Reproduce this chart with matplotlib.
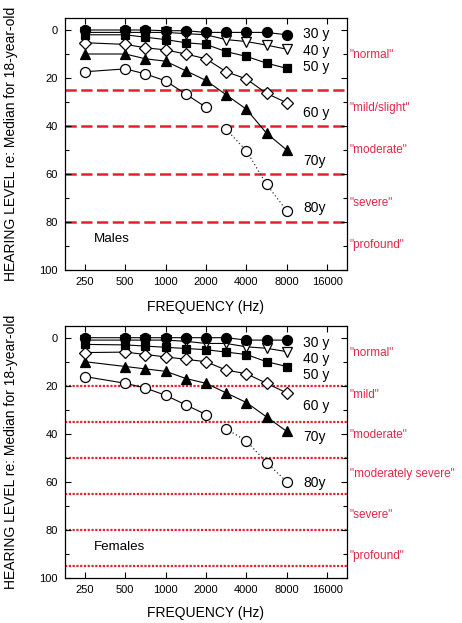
import matplotlib
matplotlib.use("Agg")
import matplotlib.pyplot as plt
from matplotlib.ticker import FixedLocator, MultipleLocator, NullLocator, FixedFormatter

plt.rcParams['font.family'] = ['Liberation Sans', 'DejaVu Sans']

# ---------------- data ----------------
freqs = [250, 500, 707, 1000, 1414, 2000, 2828, 4000, 5657, 8000]
xtick_vals = [250, 500, 1000, 2000, 4000, 8000, 16000]
xtick_labels = ["250", "500", "1000", "2000", "4000", "8000", "16000"]

ages = ["30 y", "40 y", "50 y", "60 y", "70y", "80y"]

male_30 = [0, 0, 0, 0.3, 0.3, 1, 1, 1, 1, 2]
male_40 = [1, 1, 1, 1, 1.5, 2, 4, 4.8, 6.3, 8]
male_50 = [2, 2, 3, 4, 5.3, 6, 9, 11, 13.8, 16]
male_60 = [5.3, 6, 7.4, 8.3, 10, 12, 17.4, 20.4, 26.4, 30.3]
male_70 = [10, 10, 12, 13, 17, 21, 27, 33, 43, 50]
male_80 = [17.4, 16.2, 18.3, 21.2, 26.7, 32.2, 41.4, 50.3, 64.3, 75.3]

female_30 = [0, 0, 0, 0, 0, 0, 0, 1, 1, 1]
female_40 = [1, 1, 1, 1, 1.5, 2.4, 2.4, 3.8, 4.4, 5.8]
female_50 = [2.8, 3, 3.5, 4, 4.5, 5, 6, 7, 10, 12]
female_60 = [6.2, 6, 7, 8, 9, 10, 13.5, 15, 19, 23]
female_70 = [10, 12, 13, 14, 17, 19, 23, 27, 33, 39]
female_80 = [16.2, 19, 21, 24, 28, 32, 38, 43, 52, 60]

# age label y-positions (dB)
male_label_y = [1.7, 8.7, 15.4, 34.6, 54.4, 74]
female_label_y = [2.4, 9, 15.5, 28.5, 41.2, 60.7]

male_limits = [25, 40, 60, 80]
male_categories = ['"normal"', '"mild/slight"', '"moderate"', '"severe"', '"profound"']
male_cat_y = [10.4, 32.5, 50, 72, 89.6]

female_limits = [20, 35, 50, 65, 80, 95]
female_categories = ['"normal"', '"mild"', '"moderate"', '"moderately severe"', '"severe"', '"profound"']
female_cat_y = [6.5, 24, 40.5, 57, 74, 91]

# ---------------- styles ----------------
styles = [
    dict(marker='o', mfc='black', ms=7.2),
    dict(marker='v', mfc='white', ms=7.2),
    dict(marker='s', mfc='black', ms=6.2),
    dict(marker='D', mfc='white', ms=6.0),
    dict(marker='^', mfc='black', ms=7.2),
    dict(marker='o', mfc='white', ms=7.2),
]
RED = '#e5202e'
TXT_RED = '#e0284a'

fig = plt.figure(figsize=(4.62, 6.23), dpi=100)
W, H = 462.0, 623.0
ax1 = fig.add_axes([65 / W, 1 - 270 / H, 282 / W, 252 / H])
ax2 = fig.add_axes([65 / W, 1 - 577.7 / H, 282 / W, 252 / H])


def draw_panel(ax, series, label_y, limits, limit_style, cats, cat_y, sex_label, xlabel_y):
    ax.set_xscale('log')
    ax.set_xlim(177.6, 22530)
    ax.set_ylim(100, -5)
    for lim in limits:
        ax.axhline(lim, color=RED, lw=limit_style['lw'], ls=limit_style['ls'], zorder=1)
    for i, (vals, st) in enumerate(zip(series, styles)):
        if i == 5:
            ax.plot(freqs[:6], vals[:6], color='black', lw=0.8, marker=st['marker'],
                    mfc=st['mfc'], mec='black', mew=0.9, ms=st['ms'], zorder=3)
            ax.plot(freqs[6:], vals[6:], color='#333333', lw=0.9, ls=(0, (1, 2)),
                    marker=st['marker'], mfc=st['mfc'], mec='black', mew=0.9,
                    ms=st['ms'], zorder=3)
        else:
            ax.plot(freqs, vals, color='black', lw=0.8, marker=st['marker'],
                    mfc=st['mfc'], mec='black', mew=0.9, ms=st['ms'], zorder=3 + (5 - i) * 0.1)
    for lab, yy in zip(ages, label_y):
        ax.text(0.844, yy, lab, transform=ax.get_yaxis_transform(), ha='left',
                va='center', fontsize=10)
    for lab, yy in zip(cats, cat_y):
        ax.text(1.01, yy, lab, transform=ax.get_yaxis_transform(), ha='left',
                va='center', fontsize=8.5, color=TXT_RED, clip_on=False)
    ax.text(0.103, 87, sex_label, transform=ax.get_yaxis_transform(), ha='left',
            va='center', fontsize=9.6)
    ax.xaxis.set_major_locator(FixedLocator(xtick_vals))
    ax.xaxis.set_major_formatter(FixedFormatter(xtick_labels))
    ax.xaxis.set_minor_locator(NullLocator())
    ax.yaxis.set_major_locator(MultipleLocator(20))
    ax.yaxis.set_minor_locator(MultipleLocator(10))
    ax.tick_params(which='both', direction='in', top=True, right=True,
                   labelsize=8, width=0.8)
    ax.tick_params(which='major', length=4, pad=5)
    ax.tick_params(which='minor', length=3)
    for sp in ax.spines.values():
        sp.set_linewidth(0.9)
    ax.text(0.5, xlabel_y, "FREQUENCY (Hz)", transform=ax.transAxes, ha='center',
            va='center', fontsize=10)
    pos = ax.get_position()
    fig.text(11 / W, (pos.y0 + pos.y1) / 2, "HEARING LEVEL re: Median for 18-year-old",
             rotation=90, ha='center', va='center', fontsize=10)


draw_panel(ax1, [male_30, male_40, male_50, male_60, male_70, male_80], male_label_y,
           male_limits, dict(lw=1.8, ls=(0, (4.5, 1.8))), male_categories, male_cat_y,
           "Males", -0.146)
draw_panel(ax2, [female_30, female_40, female_50, female_60, female_70, female_80],
           female_label_y, female_limits, dict(lw=1.6, ls=(0, (1, 0.7))),
           female_categories, female_cat_y, "Females", -0.14)

fig.savefig("out.png", dpi=100)
